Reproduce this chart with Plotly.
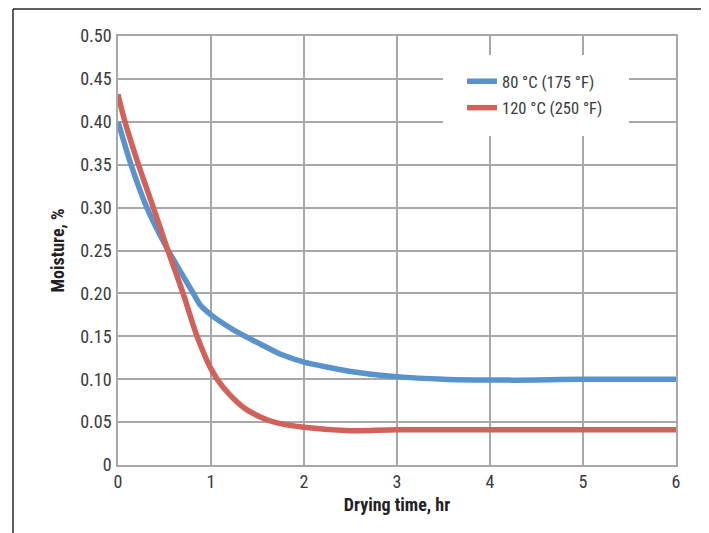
import plotly.graph_objects as go

# Data
time_80 = [0, 0.14, 0.31, 0.53, 0.81, 0.88, 1.0, 1.25, 1.53, 1.75, 2.0, 2.5, 3.0, 3.5, 4.0, 4.5, 5.0, 6.0]
moist_80 = [0.400, 0.350, 0.300, 0.252, 0.200, 0.187, 0.175, 0.157, 0.141, 0.129, 0.120, 0.109, 0.103, 0.100, 0.099, 0.099, 0.100, 0.100]

time_120 = [0, 0.075, 0.22, 0.38, 0.53, 0.70, 0.85, 1.0, 1.12, 1.35, 1.53, 1.71, 2.0, 2.5, 3.0, 4.0, 5.0, 6.0]
moist_120 = [0.432, 0.400, 0.350, 0.300, 0.252, 0.200, 0.150, 0.112, 0.092, 0.067, 0.056, 0.049, 0.044, 0.040, 0.041, 0.041, 0.041, 0.041]

series_names = ["80 °C (175 °F)", "120 °C (250 °F)"]
colors = ["#5a93cc", "#d0615b"]

x_ticks = [0, 1, 2, 3, 4, 5, 6]
y_ticks = [0, 0.05, 0.10, 0.15, 0.20, 0.25, 0.30, 0.35, 0.40, 0.45, 0.50]
y_labels = ["0", "0.05", "0.10", "0.15", "0.20", "0.25", "0.30", "0.35", "0.40", "0.45", "0.50"]

FONT = "Roboto Condensed, Liberation Sans Narrow, Arial Narrow, sans-serif"
TXT = "#3a3a3a"
GRID = "#a8a8a8"

fig = go.Figure()
fig.add_trace(go.Scatter(x=time_80, y=moist_80, mode="lines", name=series_names[0], legendgroup="a",
                         line=dict(color=colors[0], width=5.5, shape="spline", smoothing=0.6)))
fig.add_trace(go.Scatter(x=time_120, y=moist_120, mode="lines", name=series_names[1], legendgroup="b",
                         line=dict(color=colors[1], width=5.5, shape="spline", smoothing=1.0)))

# The page has an 8px body margin, so the figure is drawn 8px smaller and offset.
OFF = 8
W, H = 709 - OFF, 533 - OFF
PL, PR, PT, PB = 118, 676, 36, 465  # plot area in page pixels
L, T = PL - OFF, PT - OFF
R = W - (PR - OFF)
B = H - (PB - OFF)
pw, ph = PR - PL, PB - PT

def px_x(p):
    return (p - PL) / pw

def px_y(p):
    return (PB - p) / ph

frame = dict(color="#2a2a2a", width=1.5)
shapes = [
    dict(type="line", xref="paper", yref="paper", x0=px_x(13), x1=px_x(13), y0=px_y(9), y1=px_y(560), line=frame),
    dict(type="line", xref="paper", yref="paper", x0=px_x(705), x1=px_x(705), y0=px_y(9), y1=px_y(560), line=frame),
    dict(type="line", xref="paper", yref="paper", x0=px_x(13), x1=px_x(705), y0=px_y(9), y1=px_y(9), line=frame),
    # white box behind legend hiding the grid
    dict(type="rect", xref="paper", yref="paper", x0=px_x(443), x1=px_x(629), y0=px_y(136), y1=px_y(55),
         fillcolor="white", line=dict(width=0), layer="above"),
]

fig.update_layout(
    width=W, height=H,
    margin=dict(l=L, r=R, t=T, b=B),
    paper_bgcolor="white", plot_bgcolor="white",
    font=dict(family=FONT, size=18, color=TXT),
    showlegend=True,
    legend=dict(x=px_x(462), y=px_y(64), xanchor="left", yanchor="top",
                bgcolor="rgba(0,0,0,0)", borderwidth=0, font=dict(size=16.5, color=TXT),
                tracegroupgap=2, itemwidth=30),
    shapes=shapes,
)
fig.update_xaxes(range=[0, 6], tickvals=x_ticks, ticktext=[str(v) for v in x_ticks],
                 showgrid=True, gridcolor=GRID, gridwidth=1.5,
                 showline=True, linecolor=GRID, linewidth=1.5, mirror=True,
                 zeroline=False, ticks="", ticklabelstandoff=0,
                 title=dict(text="<b>Drying time, hr</b>", font=dict(size=18, color="#222"), standoff=7))
fig.update_yaxes(range=[0, 0.5], tickvals=y_ticks, ticktext=y_labels,
                 showgrid=True, gridcolor=GRID, gridwidth=1.5,
                 showline=True, linecolor=GRID, linewidth=1.5, mirror=True,
                 zeroline=False, ticks="", ticklabelstandoff=1,
                 title=dict(text="<b>Moisture, %</b>", font=dict(size=18, color="#222"), standoff=11))

fig.write_html("out.html")
